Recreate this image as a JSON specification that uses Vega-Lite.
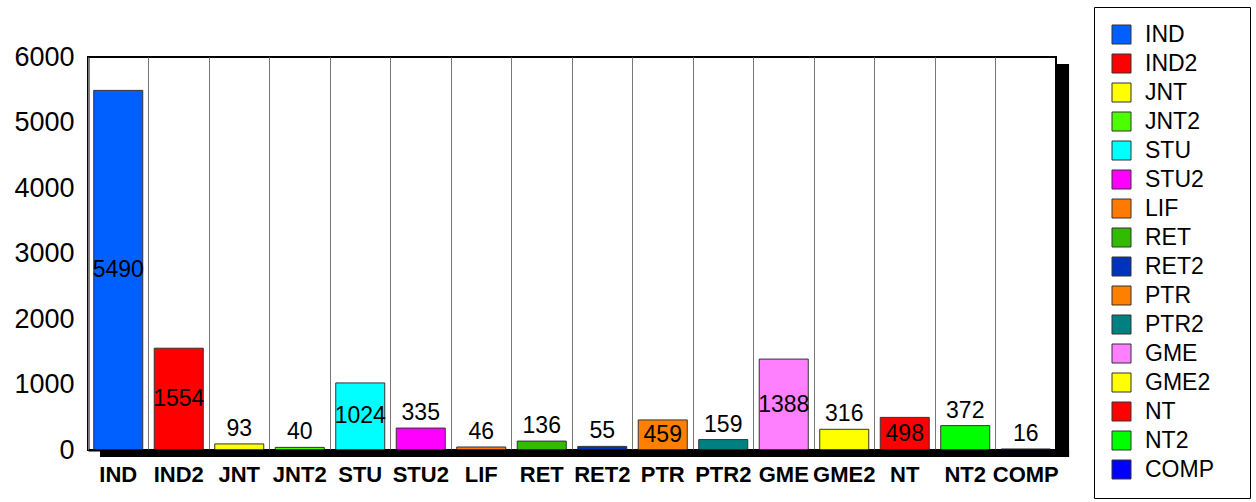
{
  "$schema": "https://vega.github.io/schema/vega-lite/v6.json",
  "autosize": "none",
  "width": 968,
  "height": 393,
  "padding": {"left": 88, "top": 57, "right": 200, "bottom": 52},
  "background": "white",
  "config": {
    "font": "Liberation Sans",
    "view": {"stroke": "#000", "strokeWidth": 2}
  },
  "data": {
    "values": [
      {"cat": "IND", "value": 5490},
      {"cat": "IND2", "value": 1554},
      {"cat": "JNT", "value": 93},
      {"cat": "JNT2", "value": 40},
      {"cat": "STU", "value": 1024},
      {"cat": "STU2", "value": 335},
      {"cat": "LIF", "value": 46},
      {"cat": "RET", "value": 136},
      {"cat": "RET2", "value": 55},
      {"cat": "PTR", "value": 459},
      {"cat": "PTR2", "value": 159},
      {"cat": "GME", "value": 1388},
      {"cat": "GME2", "value": 316},
      {"cat": "NT", "value": 498},
      {"cat": "NT2", "value": 372},
      {"cat": "COMP", "value": 16}
    ]
  },
  "encoding": {
    "x": {
      "field": "cat", "type": "nominal", "sort": null,
      "scale": {"domain": ["IND","IND2","JNT","JNT2","STU","STU2","LIF","RET","RET2","PTR","PTR2","GME","GME2","NT","NT2","COMP"], "paddingInner": 0, "paddingOuter": 0},
      "axis": {
        "title": null, "labelAngle": 0, "labelFontSize": 22, "labelFontWeight": "bold", "labelColor": "#000",
        "labelPadding": 14, "ticks": false, "domainColor": "#000", "domainWidth": 2,
        "grid": true, "bandPosition": 0, "gridColor": "#777", "gridWidth": 1, "gridOpacity": 1,
        "labelOverlap": false, "labelLimit": 0
      }
    }
  },
  "layer": [
    {
      "mark": {"type": "rect", "color": "#000"},
      "encoding": {
        "x": {"datum": "COMP", "bandPosition": 1},
        "x2": {"datum": "COMP", "bandPosition": 1.215},
        "y": {"datum": 5893, "type": "quantitative"},
        "y2": {"datum": -107}
      }
    },
    {
      "mark": {"type": "rect", "color": "#000"},
      "encoding": {
        "x": {"datum": "IND", "bandPosition": 0.2},
        "x2": {"datum": "COMP", "bandPosition": 1.215},
        "y": {"datum": 0, "type": "quantitative"},
        "y2": {"datum": -107}
      }
    },
    {
      "mark": {"type": "bar", "width": {"band": 0.81}, "stroke": "#333", "strokeWidth": 1},
      "encoding": {
        "y": {
          "field": "value", "type": "quantitative",
          "scale": {"domain": [0, 6000], "nice": false},
          "axis": {
            "title": null, "values": [0,1000,2000,3000,4000,5000,6000], "format": "d", "labelFontSize": 27, "labelColor": "#000",
            "ticks": false, "labelPadding": 14, "domainColor": "#000", "domainWidth": 2,
            "gridColor": "#777", "gridWidth": 1, "gridOpacity": 1
          }
        },
        "color": {
          "field": "cat", "type": "nominal",
          "scale": {
            "domain": ["IND","IND2","JNT","JNT2","STU","STU2","LIF","RET","RET2","PTR","PTR2","GME","GME2","NT","NT2","COMP"],
            "range": ["#0060FF","#FF0000","#FFFF00","#4CFF00","#00FFFF","#FF00FF","#FF7A00","#33BB00","#0033BB","#FF7F00","#008080","#FF80FF","#FFFF00","#FF0000","#00FF00","#0000FF"]
          },
          "legend": {
            "title": null, "orient": "none", "legendX": 1006, "legendY": -50,
            "symbolType": "square", "symbolSize": 361, "symbolStrokeColor": "#333", "symbolStrokeWidth": 1,
            "symbolOpacity": 1,
            "labelFontSize": 23, "labelColor": "#000", "labelOffset": 12, "rowPadding": 5,
            "padding": 16, "strokeColor": "#000", "fillColor": "#fff",
            "labelExpr": "datum.label + '\u00a0\u00a0\u00a0\u200b'", "labelLimit": 0
          }
        }
      }
    },
    {
      "transform": [{"filter": "datum.value >= 400"}],
      "mark": {"type": "text", "fontSize": 23, "baseline": "middle", "color": "#000"},
      "encoding": {
        "y": {"field": "value", "type": "quantitative", "stack": "zero", "bandPosition": 0.5},
        "detail": {"field": "cat"},
        "text": {"field": "value", "type": "quantitative"}
      }
    },
    {
      "transform": [{"filter": "datum.value < 400"}],
      "mark": {"type": "text", "fontSize": 23, "baseline": "alphabetic", "dy": -8, "color": "#000"},
      "encoding": {
        "y": {"field": "value", "type": "quantitative"},
        "text": {"field": "value", "type": "quantitative"}
      }
    }
  ]
}
